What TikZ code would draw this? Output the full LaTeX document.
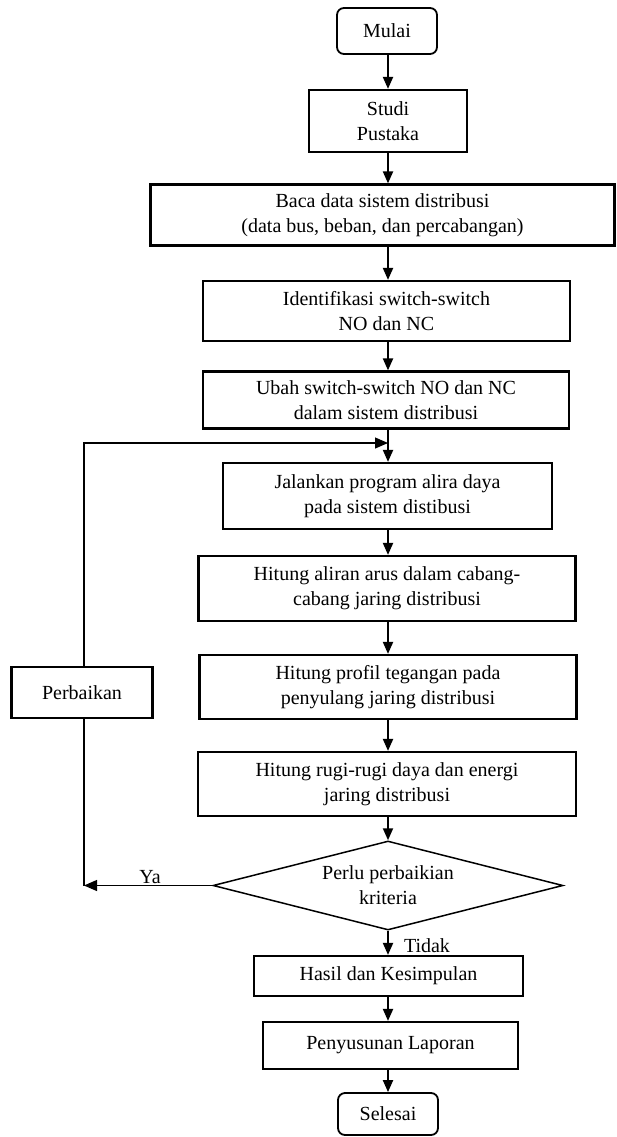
\documentclass[tikz,border=0pt]{standalone}
\usepackage{fontspec}
\setmainfont{Liberation Serif}
\usetikzlibrary{shapes.geometric,arrows.meta}
\begin{document}
\begin{tikzpicture}[x=1pt,y=-1pt,
  every node/.style={font=\fontsize{20}{25}\selectfont},
  box/.style={draw,line width=2.2pt,align=center,inner sep=0pt},
  term/.style={box,line width=1.8pt,rounded corners=7pt},
  dec/.style={draw,line width=1.5pt,diamond,aspect=3.9,inner sep=0pt,align=center,minimum width=350pt,minimum height=89pt},
  arr/.style={line width=2pt,-{Triangle[length=12pt,width=10pt]}},
  fb/.style={line width=1.1pt},
  fbarr/.style={line width=1.1pt,-{Triangle[length=13pt,width=11pt]}},
  lbl/.style={inner sep=0pt}]
\useasboundingbox (0,0) rectangle (616,1137);
\node[term,minimum width=100pt,minimum height=46pt] (mulai) at (387,31) {Mulai};
\node[box,minimum width=158pt,minimum height=62pt] (studi) at (388,121) {Studi\\Pustaka};
\node[box,minimum width=464pt,minimum height=61pt] (baca) at (382.5,215) {Baca data sistem distribusi\\(data bus, beban, dan percabangan)};
\node[box,minimum width=367pt,minimum height=60pt] (ident) at (386.5,311) {Identifikasi switch-switch\\NO dan NC};
\node[box,minimum width=366pt,minimum height=57pt] (ubah) at (386,400) {Ubah switch-switch NO dan NC\\dalam sistem distribusi};
\node[box,minimum width=329pt,minimum height=66pt] (jal) at (387.5,496) {Jalankan program alira daya\\pada sistem distibusi};
\node[box,minimum width=377pt,minimum height=65pt] (arus) at (387,588.5) {Hitung aliran arus dalam cabang-\\cabang jaring distribusi};
\node[box,minimum width=377pt,minimum height=64pt] (prof) at (388,687) {Hitung profil tegangan pada\\penyulang jaring distribusi};
\node[box,minimum width=378pt,minimum height=64pt] (rugi) at (387,784) {Hitung rugi-rugi daya dan energi\\jaring distribusi};
\node[dec] (dec) at (388,885.5) {Perlu perbaikian\\kriteria};
\node[box,minimum width=269pt,minimum height=40pt] (hasil) at (388.5,976) {Hasil dan Kesimpulan};
\node[box,minimum width=255pt,minimum height=47pt] (susun) at (390.5,1045.5) {Penyusunan Laporan};
\node[term,minimum width=100pt,minimum height=42pt] (selesai) at (388,1114) {Selesai};
\node[box,minimum width=141pt,minimum height=51pt] (perb) at (82,692.5) {Perbaikan};
\coordinate (col) at (388,0);
\coordinate (merge) at (388,443);
\coordinate (yaend) at (84,885.5);
\draw[arr] (mulai.south -| col) -- (studi.north -| col);
\draw[arr] (studi.south -| col) -- (baca.north -| col);
\draw[arr] (baca.south -| col) -- (ident.north -| col);
\draw[arr] (ident.south -| col) -- (ubah.north -| col);
\draw[arr] (ubah.south -| col) -- (jal.north -| col);
\draw[arr] (jal.south -| col) -- (arus.north -| col);
\draw[arr] (arus.south -| col) -- (prof.north -| col);
\draw[arr] (prof.south -| col) -- (rugi.north -| col);
\draw[arr] (rugi.south -| col) -- (dec.north);
\draw[arr] (dec.south) -- (hasil.north -| col);
\draw[arr] (hasil.south -| col) -- (susun.north -| col);
\draw[arr] (susun.south -| col) -- (selesai.north -| col);
\draw[fbarr] (dec.west) -- (yaend);
\draw[fb] (yaend) -- (yaend |- perb.south);
\draw[fbarr] (yaend |- perb.north) -- (84,443) -- (merge);
\node[lbl] (ya) at (150,877) {Ya};
\node[lbl] (tidak) at (427,946) {Tidak};
\end{tikzpicture}
\end{document}
